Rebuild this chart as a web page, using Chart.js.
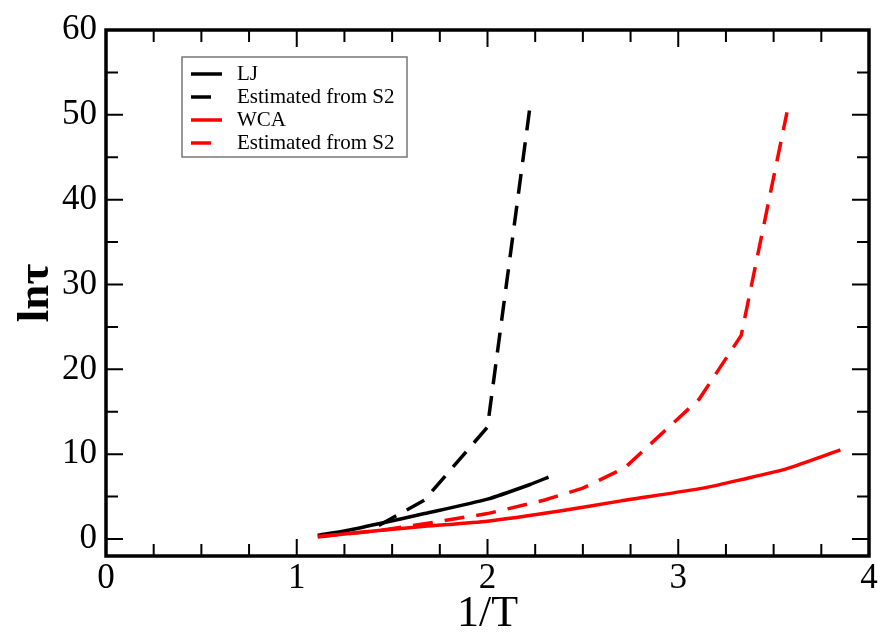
<!DOCTYPE html>
<html>
<head>
<meta charset="utf-8">
<script src="https://cdn.jsdelivr.net/npm/chart.js@4"></script>
<style>
  body { margin: 0; background: #fff; }
</style>
</head>
<body>
<canvas id="chart" width="882" height="633"></canvas>
<script>
// values (x = 1/T, y = ln tau)
const ljX = [1.11, 1.25, 1.43, 1.67, 2.0, 2.22, 2.32];
const ljY = [0.45, 0.95, 1.8, 3.0, 4.7, 6.4, 7.3];
const ljEstX = [1.43, 1.67, 2.0, 2.22];
const ljEstY = [1.6, 4.6, 13.2, 50.5];
const wcaX = [1.11, 1.25, 1.43, 1.67, 2.0, 2.38, 2.7, 3.13, 3.33, 3.57, 3.85];
const wcaY = [0.3, 0.6, 1.0, 1.5, 2.1, 3.3, 4.5, 6.0, 7.0, 8.3, 10.5];
const wcaEstX = [1.11, 1.43, 1.67, 2.0, 2.3, 2.5, 2.72, 3.11, 3.33, 3.57];
const wcaEstY = [0.25, 1.0, 1.8, 3.0, 4.6, 6.0, 8.4, 16.5, 24.0, 50.3];

const xTicks = [0, 1, 2, 3, 4];
const yTicks = [0, 10, 20, 30, 40, 50, 60];
const xMinor = [0.25, 0.5, 0.75, 1.25, 1.5, 1.75, 2.25, 2.5, 2.75, 3.25, 3.5, 3.75];
const yMinor = [5, 15, 25, 35, 45, 55];

const legendLabels = ['LJ', 'Estimated from S2', 'WCA', 'Estimated from S2'];

const toPoints = (xs, ys) => xs.map((x, i) => ({ x: x, y: ys[i] }));
const serif = 'Liberation Serif, Times New Roman, serif';

// inward ticks on all four sides plus the frame
const framePlugin = {
  id: 'frame',
  afterDraw(chart) {
    const { ctx, chartArea: a, scales } = chart;
    const sx = scales.x, sy = scales.y;
    ctx.save();
    ctx.strokeStyle = '#000';
    ctx.lineWidth = 2;
    const tick = (len, vals, horiz) => {
      vals.forEach(v => {
        ctx.beginPath();
        if (horiz) {
          const px = sx.getPixelForValue(v);
          ctx.moveTo(px, a.bottom); ctx.lineTo(px, a.bottom - len);
          ctx.moveTo(px, a.top); ctx.lineTo(px, a.top + len);
        } else {
          const py = sy.getPixelForValue(v);
          ctx.moveTo(a.left, py); ctx.lineTo(a.left + len, py);
          ctx.moveTo(a.right, py); ctx.lineTo(a.right - len, py);
        }
        ctx.stroke();
      });
    };
    tick(17, xTicks, true);
    tick(12, xMinor, true);
    tick(17, yTicks, false);
    tick(12, yMinor, false);
    ctx.lineWidth = 3.5;
    ctx.strokeRect(a.left, a.top, a.right - a.left, a.bottom - a.top);
    ctx.restore();
  }
};

const legendPlugin = {
  id: 'boxLegend',
  afterDraw(chart) {
    const ctx = chart.ctx;
    const bx = 182, by = 57, bw = 225, bh = 100;
    ctx.save();
    ctx.fillStyle = '#fff';
    ctx.fillRect(bx, by, bw, bh);
    ctx.strokeStyle = '#777';
    ctx.lineWidth = 1.5;
    ctx.strokeRect(bx, by, bw, bh);
    ctx.font = '21px ' + serif;
    ctx.textBaseline = 'middle';
    chart.data.datasets.forEach((ds, i) => {
      const y = 74 + i * 23;
      ctx.strokeStyle = ds.borderColor;
      ctx.lineWidth = 3.5;
      ctx.setLineDash(ds.borderDash || []);
      ctx.beginPath();
      ctx.moveTo(191, y);
      ctx.lineTo(ds.borderDash ? 212 : 222, y);
      ctx.stroke();
      ctx.setLineDash([]);
      ctx.fillStyle = '#000';
      ctx.fillText(legendLabels[i], 237, y);
    });
    ctx.restore();
  }
};

new Chart(document.getElementById('chart'), {
  type: 'line',
  data: {
    datasets: [
      { data: toPoints(ljX, ljY), borderColor: '#000', borderWidth: 3.5, tension: 0.2, order: 2 },
      { data: toPoints(ljEstX, ljEstY), borderColor: '#000', borderWidth: 3.5, borderDash: [20, 12], order: 3 },
      { data: toPoints(wcaX, wcaY), borderColor: '#ff0000', borderWidth: 3.5, tension: 0.2, order: 0 },
      { data: toPoints(wcaEstX, wcaEstY), borderColor: '#ff0000', borderWidth: 3.5, borderDash: [20, 12], order: 1 }
    ]
  },
  options: {
    responsive: false,
    animation: false,
    elements: { point: { radius: 0 } },
    layout: { padding: { top: 21, right: 13, left: 0, bottom: 0 } },
    plugins: { legend: { display: false }, tooltip: { enabled: false } },
    scales: {
      x: {
        type: 'linear', min: 0, max: 4,
        afterBuildTicks: s => { s.ticks = xTicks.map(v => ({ value: v })); },
        afterFit: s => { s.height = 77; },
        grid: { display: false, drawTicks: false },
        border: { display: false },
        ticks: { color: '#000', padding: 2, font: { family: serif, size: 35 } },
        title: { display: true, text: '1/T', color: '#000', padding: { top: 0, bottom: -3 },
                 font: { family: serif, size: 44, lineHeight: 1 } }
      },
      y: {
        type: 'linear', min: -2, max: 60,
        afterBuildTicks: s => { s.ticks = yTicks.map(v => ({ value: v })); },
        afterFit: s => { s.width = 106; },
        grid: { display: false, drawTicks: false },
        border: { display: false },
        ticks: { color: '#000', padding: 9, font: { family: serif, size: 35 } },
        title: { display: true, text: 'lnτ', color: '#000', padding: { top: 14, bottom: 0 },
                 font: { family: serif, size: 45, weight: 'bold', lineHeight: 1 } }
      }
    }
  },
  plugins: [framePlugin, legendPlugin]
});
</script>
</body>
</html>
